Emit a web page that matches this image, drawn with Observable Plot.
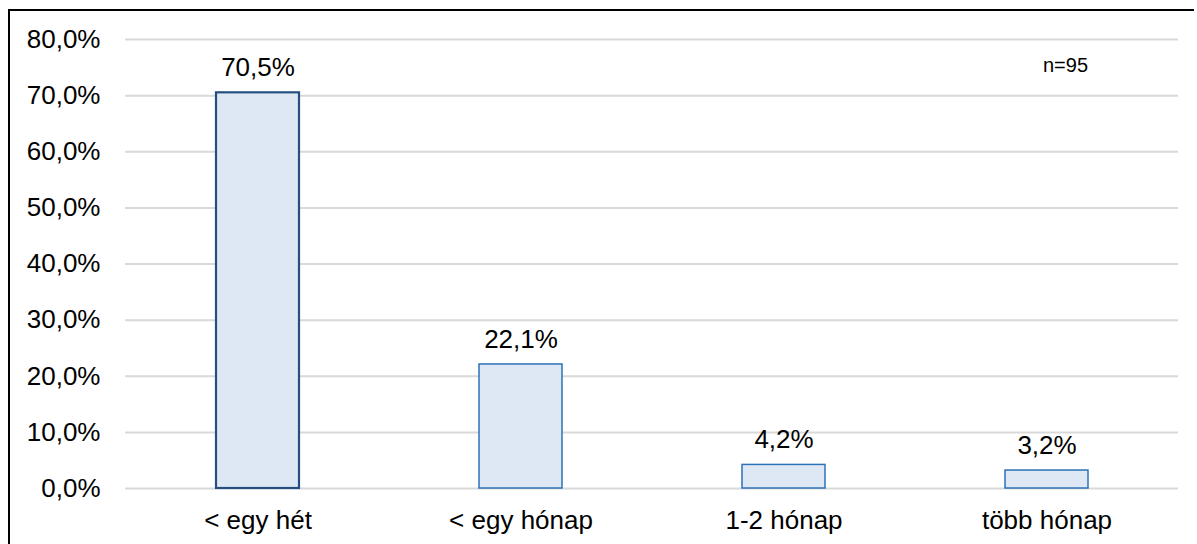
<!DOCTYPE html>
<html>
<head>
<meta charset="utf-8">
<script src="https://cdn.jsdelivr.net/npm/d3@7"></script>
<script src="https://cdn.jsdelivr.net/npm/@observablehq/plot@0.6"></script>
<style>
  html, body { margin: 0; padding: 0; background: #fff; }
  #wrap { position: relative; width: 1197px; height: 544px; overflow: hidden; font-family: "Liberation Sans", Arial, sans-serif; }
  #frame { position: absolute; left: 8px; top: 9px; width: 1186px; height: 600px; border-left: 2px solid #000; border-top: 2px solid #000; box-sizing: border-box; pointer-events: none; }
  #note { position: absolute; left: 1043px; top: 55px; font-size: 20px; line-height: 20px; color: #000; }
  #chart { position: absolute; left: 0; top: 0; }
</style>
</head>
<body>
<div id="wrap">
  <div id="chart"></div>
  <div id="frame"></div>
  <div id="note">n=95</div>
</div>
<script>
const categories = ["< egy hét", "< egy hónap", "1-2 hónap", "több hónap"];
const values = [70.5, 22.1, 4.2, 3.2];
const yTicks = [0, 10, 20, 30, 40, 50, 60, 70, 80];
const strokes = ["#264f7f", "#2e72b8", "#2e72b8", "#2e72b8"];
const strokeWidths = [2.2, 1.5, 1.5, 1.5];

const data = categories.map((c, i) => ({cat: c, value: values[i], stroke: strokes[i], sw: strokeWidths[i]}));
const fmt = v => v.toFixed(1).replace(".", ",") + "%";

const chart = Plot.plot({
  width: 1197,
  height: 544,
  marginLeft: 125,
  marginRight: 19,
  marginTop: 39,
  marginBottom: 56,
  style: {fontFamily: "Liberation Sans, Arial, sans-serif", fontSize: "26px", color: "#000", background: "transparent"},
  x: {domain: categories, paddingInner: 0.685, paddingOuter: 0.3425, label: null},
  y: {domain: [0, 80], label: null},
  marks: [
    Plot.ruleY(yTicks, {stroke: "#d9d9d9", strokeWidth: 2}),
    Plot.axisY(yTicks, {tickSize: 0, tickPadding: 25, tickFormat: fmt, fontSize: 26, label: null}),
    Plot.axisX({tickSize: 0, tickPadding: 22, fontSize: 26, label: null}),
    ...data.map(d => Plot.barY([d], {x: "cat", y: "value", fill: "#dde8f4", stroke: d.stroke, strokeWidth: d.sw})),
    Plot.text(data, {x: "cat", y: "value", text: d => fmt(d.value), dy: -25, fontSize: 26, fill: "#000"})
  ]
});
document.getElementById("chart").appendChild(chart);
</script>
</body>
</html>
